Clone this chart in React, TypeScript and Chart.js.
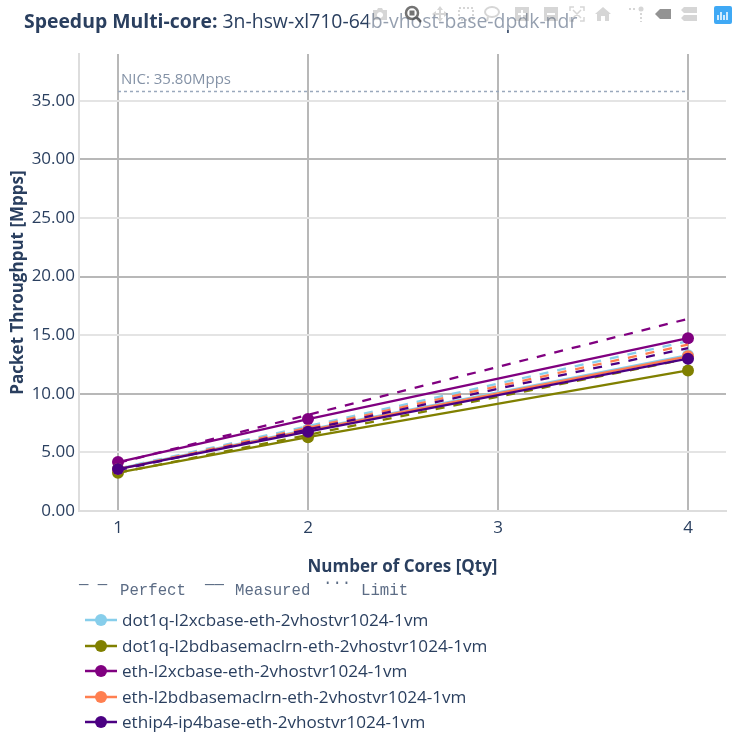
import React, { useEffect, useRef } from "react";
import { Chart, registerables } from "chart.js";

Chart.register(...registerables);

const cores = [1, 2, 4];
const xTicks = [1, 2, 3, 4];
const limitCores = [1, 4];
const limitValues = [35.8, 35.8];
const yTicks = [0, 5, 10, 15, 20, 25, 30, 35];

const names = [
  "dot1q-l2xcbase-eth-2vhostvr1024-1vm",
  "dot1q-l2bdbasemaclrn-eth-2vhostvr1024-1vm",
  "eth-l2xcbase-eth-2vhostvr1024-1vm",
  "eth-l2bdbasemaclrn-eth-2vhostvr1024-1vm",
  "ethip4-ip4base-eth-2vhostvr1024-1vm",
];
const colors = ["#87CEEB", "#808000", "#800080", "#FF7F50", "#4B0082"];

const measuredDot1qXc = [3.62, 6.95, 13.3];
const measuredDot1qBd = [3.27, 6.3, 12.0];
const measuredEthXc = [4.18, 7.85, 14.75];
const measuredEthBd = [3.58, 6.88, 13.2];
const measuredIp4 = [3.58, 6.77, 13.0];

const perfectDot1qXc = [3.62, 7.24, 14.5];
const perfectDot1qBd = [3.25, 6.5, 13.0];
const perfectEthXc = [4.1, 8.2, 16.4];
const perfectEthBd = [3.55, 7.1, 14.2];
const perfectIp4 = [3.48, 6.96, 13.9];

const measured = [measuredDot1qXc, measuredDot1qBd, measuredEthXc, measuredEthBd, measuredIp4];
const perfect = [perfectDot1qXc, perfectDot1qBd, perfectEthXc, perfectEthBd, perfectIp4];

const TEXT = "#2a3f5f";
const FONT = '"Open Sans", sans-serif';
const MONO = '"Liberation Mono", monospace';

const nicLabel: any = {
  id: "nicLabel",
  afterDatasetsDraw(chart: any) {
    const { ctx, scales } = chart;
    ctx.save();
    ctx.font = `15px ${FONT}`;
    ctx.fillStyle = "#8492a6";
    ctx.textBaseline = "alphabetic";
    ctx.fillText("NIC: 35.80Mpps", scales.x.getPixelForValue(1) + 3, scales.y.getPixelForValue(35.8) - 7);
    ctx.restore();
  },
};

const Icon = ({ x, children, op = 0.3 }: any) => (
  <svg
    width="20"
    height="20"
    viewBox="0 0 20 20"
    style={{ position: "absolute", left: x - 10, top: 4, opacity: op }}
  >
    {children}
  </svg>
);

export default function App() {
  const ref = useRef<HTMLCanvasElement>(null);
  useEffect(() => {
    const datasets: any[] = [
      {
        label: "Limit",
        data: limitCores.map((x, i) => ({ x, y: limitValues[i] })),
        borderColor: "#9aa8bc",
        borderWidth: 1.5,
        borderDash: [3, 3],
        pointRadius: 0,
      },
    ];
    names.forEach((name, i) => {
      datasets.push({
        label: name + " perfect",
        data: cores.map((x, k) => ({ x, y: perfect[i][k] })),
        borderColor: colors[i],
        borderWidth: 2.3,
        borderDash: [9, 9],
        pointRadius: 0,
      });
      datasets.push({
        label: name,
        data: cores.map((x, k) => ({ x, y: measured[i][k] })),
        borderColor: colors[i],
        backgroundColor: colors[i],
        borderWidth: 2.3,
        pointRadius: 6,
        pointBorderWidth: 0,
      });
    });
    // Chart.js paints the highest "order" first, so later traces land on top.
    datasets.forEach((d, i) => { d.order = datasets.length - i; });
    const chart = new Chart(ref.current!, {
      type: "line",
      data: { datasets },
      plugins: [nicLabel],
      options: {
        animation: false,
        responsive: false,
        devicePixelRatio: 1,
        layout: { padding: { left: 8, right: 2, top: 54, bottom: 156 } },
        plugins: { legend: { display: false }, tooltip: { enabled: false } },
        scales: {
          x: {
            type: "linear",
            min: 1 - 39 / 190,
            max: 4 + 38 / 190,
            afterFit: (s: any) => { s.height = 70; },
            afterBuildTicks: (s: any) => { s.ticks = xTicks.map((value) => ({ value })); },
            grid: { color: "#b8b8b8", lineWidth: 2, drawTicks: false },
            border: { color: "#dddddd", width: 2 },
            ticks: {
              color: TEXT,
              font: { family: FONT, size: 17 },
              padding: 7,
              maxRotation: 0,
              callback: (v: any) => String(v),
            },
            title: {
              display: true,
              text: "Number of Cores [Qty]",
              color: TEXT,
              font: { family: FONT, size: 17, weight: "bold" },
              padding: { top: 0, bottom: 4 },
            },
          },
          y: {
            type: "linear",
            min: 0,
            max: 39,
            afterFit: (s: any) => { s.width = 71; },
            afterBuildTicks: (s: any) => { s.ticks = yTicks.map((value) => ({ value })); },
            grid: {
              color: (c: any) => (c.tick && c.tick.value % 10 === 0 ? (c.tick.value === 0 ? "#dddddd" : "#b8b8b8") : "#e4e4e4"),
              lineWidth: 2,
              drawTicks: false,
            },
            border: { color: "#dddddd", width: 2 },
            ticks: {
              color: TEXT,
              font: { family: FONT, size: 17 },
              padding: 4,
              callback: (v: any) => Number(v).toFixed(2),
            },
            title: {
              display: true,
              text: "Packet Throughput [Mpps]",
              color: TEXT,
              font: { family: FONT, size: 17, weight: "bold" },
              padding: { top: 0, bottom: 0 },
            },
          },
        },
      },
    });
    return () => chart.destroy();
  }, []);

  const span = (text: string, left: number, top: number) => (
    <span
      style={{ position: "absolute", left, top, font: `15.7px ${MONO}`, color: "#5c6c85", whiteSpace: "pre", lineHeight: "16px" }}
    >
      {text}
    </span>
  );

  return (
    <div style={{ position: "absolute", left: 0, top: 0, width: 732, height: 737, overflow: "hidden", background: "#fff" }}>
      <canvas ref={ref} width={732} height={737} style={{ position: "absolute", left: 0, top: 0 }} />
      <div style={{ position: "absolute", left: 24, top: 8, font: `19.4px ${FONT}`, color: TEXT, whiteSpace: "pre", lineHeight: "26px" }}>
        <b>Speedup Multi-core:</b> 3n-hsw-xl710-64b-vhost-base-dpdk-ndr
      </div>
      <div style={{ position: "absolute", left: 368, top: 0, width: 364, height: 30, background: "rgba(255,255,255,0.5)" }} />

      {span("— —", 79, 577)}
      {span("Perfect", 120, 583)}
      {span("——", 205, 577)}
      {span("Measured", 235, 583)}
      {span("...", 323, 572)}
      {span("Limit", 361, 583)}

      {names.map((n, i) => {
        const cy = [620, 646, 671, 697, 722][i];
        return (
          <div key={n}>
            <svg width="34" height="16" style={{ position: "absolute", left: 84, top: cy - 8 }}>
              <line x1="1" x2="33" y1="8" y2="8" stroke={colors[i]} strokeWidth="2.5" />
              <circle cx="17" cy="8" r="6" fill={colors[i]} />
            </svg>
            <div style={{ position: "absolute", left: 122, top: cy - 12, font: `17.1px ${FONT}`, color: TEXT, whiteSpace: "pre", lineHeight: "24px" }}>
              {n}
            </div>
          </div>
        );
      })}

      <Icon x={380}><path d="M3 6h4l1-2h4l1 2h4v10H3z M10 8a3 3 0 1 0 .01 0z" fill="#777" fillRule="evenodd" /></Icon>
      <Icon x={413} op={0.75}><circle cx="9" cy="9" r="6" fill="none" stroke="#444" strokeWidth="2.5" /><rect x="6.5" y="6.5" width="5" height="5" fill="#444" /><path d="M13 13l5 5" stroke="#444" strokeWidth="2.5" /></Icon>
      <Icon x={440}><path d="M10 2l3 4h-2v3h3V7l4 3-4 3v-2h-3v3h2l-3 4-3-4h2v-3H6v2l-4-3 4-3v2h3V6H7z" fill="#777" /></Icon>
      <Icon x={466}><rect x="3" y="4" width="14" height="12" fill="none" stroke="#777" strokeWidth="2" strokeDasharray="2 2" /></Icon>
      <Icon x={492}><ellipse cx="10" cy="8" rx="7" ry="5" fill="none" stroke="#777" strokeWidth="2" /><path d="M6 13l-1 4" stroke="#777" strokeWidth="2" /></Icon>
      <Icon x={522}><rect x="3" y="3" width="14" height="14" fill="#777" /><path d="M10 6v8M6 10h8" stroke="#fff" strokeWidth="2" /></Icon>
      <Icon x={551}><rect x="3" y="3" width="14" height="14" fill="#777" /><path d="M6 10h8" stroke="#fff" strokeWidth="2" /></Icon>
      <Icon x={577}><path d="M3 7V3h4M13 3h4v4M17 13v4h-4M7 17H3v-4M6 6l8 8M14 6l-8 8" fill="none" stroke="#777" strokeWidth="1.5" /></Icon>
      <Icon x={603}><path d="M10 3l8 7h-2v7h-4v-5H8v5H4v-7H2z" fill="#777" /></Icon>
      <Icon x={637}><circle cx="14" cy="5" r="2.5" fill="#777" /><path d="M2 5h8M14 9v9" stroke="#777" strokeWidth="2" strokeDasharray="2 2" /></Icon>
      <Icon x={663} op={0.7}><path d="M2 10l5-5h11v10H7z" fill="#666" /></Icon>
      <Icon x={689}><path d="M5 3h13v6H5L2 6zM5 11h13v6H5l-3-3z" fill="#777" /></Icon>
      <svg width="18" height="18" viewBox="0 0 18 18" style={{ position: "absolute", left: 714, top: 6 }}>
        <rect width="18" height="18" rx="2" fill="#3fa9f5" />
        <path d="M4 9v5M7 6v8M10 9v5M13 6v8" stroke="#fff" strokeWidth="1.5" />
      </svg>
    </div>
  );
}
